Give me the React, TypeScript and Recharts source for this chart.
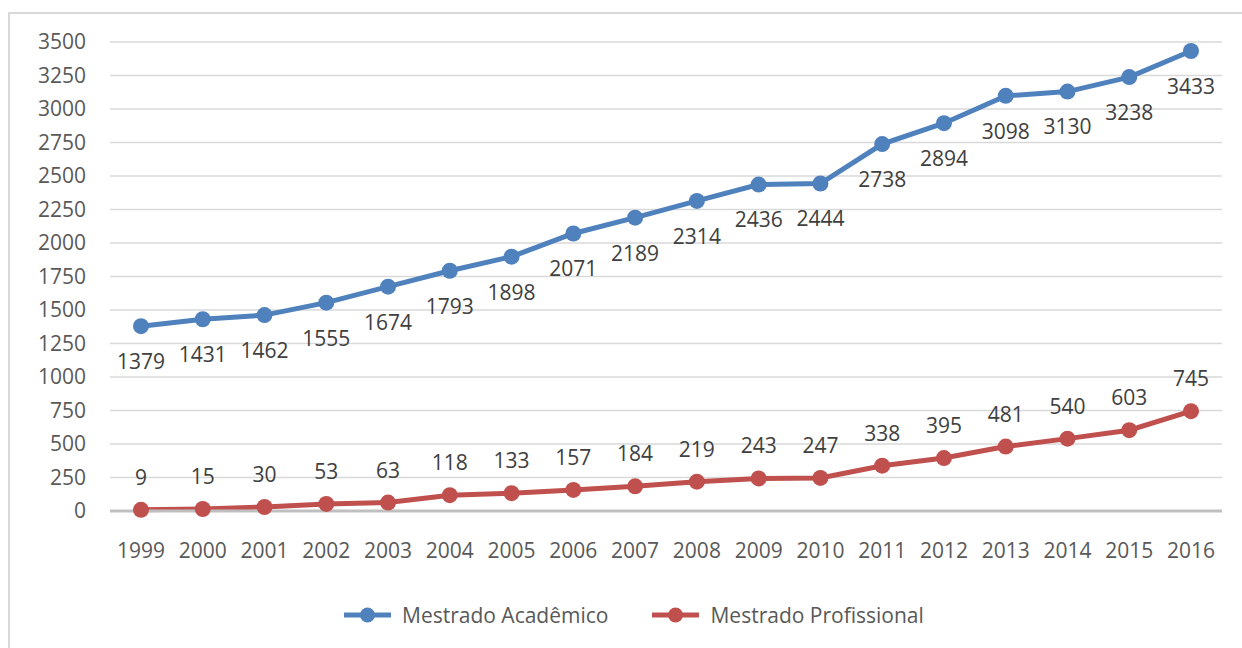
import { LineChart, Line, XAxis, YAxis, CartesianGrid, Legend, LabelList } from 'recharts'

const YEARS = ['1999', '2000', '2001', '2002', '2003', '2004', '2005', '2006', '2007', '2008', '2009', '2010', '2011', '2012', '2013', '2014', '2015', '2016']
const ACADEMICO = [1379, 1431, 1462, 1555, 1674, 1793, 1898, 2071, 2189, 2314, 2436, 2444, 2738, 2894, 3098, 3130, 3238, 3433]
const PROFISSIONAL = [9, 15, 30, 53, 63, 118, 133, 157, 184, 219, 243, 247, 338, 395, 481, 540, 603, 745]
const Y_TICKS = [0, 250, 500, 750, 1000, 1250, 1500, 1750, 2000, 2250, 2500, 2750, 3000, 3250, 3500]

const SERIES = [
  { key: 'academico', label: 'Mestrado Acadêmico', color: '#4F81BD' },
  { key: 'profissional', label: 'Mestrado Profissional', color: '#C0504D' },
]

const data = YEARS.map((year, i) => ({
  year,
  academico: ACADEMICO[i],
  profissional: PROFISSIONAL[i],
}))

const FONT = '"Open Sans", sans-serif'
const TICK = { fontSize: 21, fill: '#595959', fontFamily: FONT }

function LegendContent() {
  return (
    <div style={{ display: 'flex', alignItems: 'center', height: 28, marginLeft: 344, fontFamily: FONT }}>
      {SERIES.map((s, idx) => (
        <div key={s.key} style={{ display: 'flex', alignItems: 'center', marginRight: idx === 0 ? 44 : 0 }}>
          <svg width={47} height={28}>
            <line x1={0} y1={14} x2={47} y2={14} stroke={s.color} strokeWidth={5} strokeLinecap="round" />
            <circle cx={23.5} cy={14} r={7.5} fill={s.color} />
          </svg>
          <span style={{ fontSize: 21, color: '#595959', marginLeft: 11, lineHeight: '28px' }}>{s.label}</span>
        </div>
      ))}
    </div>
  )
}

export default function App() {
  return (
    <div style={{ position: 'absolute', left: 0, top: 0, width: 1242, height: 648, background: '#fff', overflow: 'hidden', fontFamily: FONT }}>
      <div
        style={{
          position: 'absolute',
          left: 8,
          top: 12,
          width: 1250,
          height: 650,
          border: '2px solid #d9d9d9',
          boxSizing: 'border-box',
        }}
      />
      <div style={{ position: 'absolute', left: 0, top: 0 }}>
        <LineChart width={1242} height={648} data={data} margin={{ top: 42, right: 20, left: 0, bottom: 19 }}>
          <CartesianGrid vertical={false} stroke="#d9d9d9" strokeWidth={1.5} />
          <XAxis
            dataKey="year"
            padding={{ left: 31, right: 31 }}
            tick={TICK}
            tickLine={false}
            tickSize={0}
            tickMargin={32}
            axisLine={{ stroke: '#bfbfbf', strokeWidth: 3 }}
            height={90}
            interval={0}
          />
          <YAxis
            domain={[0, 3500]}
            ticks={Y_TICKS}
            tick={TICK}
            tickLine={false}
            tickSize={0}
            tickMargin={24}
            axisLine={false}
            width={110}
            interval={0}
          />
          <Legend verticalAlign="bottom" content={<LegendContent />} />
          <Line
            dataKey="academico"
            stroke="#4F81BD"
            strokeWidth={5}
            dot={{ r: 8, fill: '#4F81BD', stroke: '#4F81BD', strokeWidth: 0 }}
            isAnimationActive={false}
          >
            <LabelList dataKey="academico" position="bottom" offset={28} fill="#404040" fontSize={21} fontFamily={FONT} />
          </Line>
          <Line
            dataKey="profissional"
            stroke="#C0504D"
            strokeWidth={5}
            dot={{ r: 8, fill: '#C0504D', stroke: '#C0504D', strokeWidth: 0 }}
            isAnimationActive={false}
          >
            <LabelList dataKey="profissional" position="top" offset={25} fill="#404040" fontSize={21} fontFamily={FONT} />
          </Line>
        </LineChart>
      </div>
    </div>
  )
}
